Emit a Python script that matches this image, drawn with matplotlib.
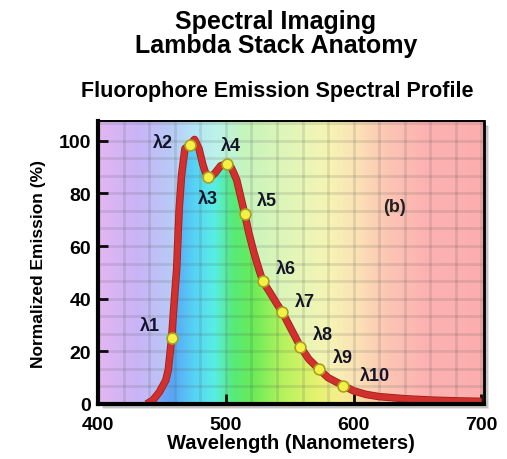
import numpy as np
import matplotlib
matplotlib.use("Agg")
import matplotlib.pyplot as plt
import matplotlib.patheffects as pe
from matplotlib.colors import LinearSegmentedColormap
from matplotlib.patches import Rectangle

plt.rcParams["font.family"] = ["Liberation Sans", "DejaVu Sans"]
plt.rcParams["font.weight"] = "bold"

# emission profile (nm, % of max)
curve_wl = [438, 443, 448, 453, 455, 457.6, 459.5, 461.5, 463.5, 465.4, 468, 471.9,
            475.5, 479, 482, 484, 486.2, 489, 492, 496, 501.3, 504, 506, 508.6,
            511, 514.8, 518, 522, 526, 529, 535, 540, 544, 550, 558.3, 565,
            572.7, 580, 591.7, 600, 610, 620, 640, 660, 680, 700]
curve_val = [0, 1.5, 4.5, 9, 13, 25, 38, 51, 74, 87, 97, 98.5,
             100.5, 97, 91, 88, 86.4, 86.5, 88, 90.5, 91.3, 90, 88, 85,
             80, 72.2, 65, 57.5, 51, 46.6, 42, 38, 35.1, 29.5, 21.8, 17,
             13.3, 10, 7, 5, 3.6, 2.8, 2, 1.5, 1.2, 1.0]

# lambda stack sampling channels
lam_names = ["λ1", "λ2", "λ3", "λ4", "λ5", "λ6", "λ7", "λ8", "λ9", "λ10"]
lam_wl = [457.6, 471.9, 486.2, 501.3, 514.8, 529.0, 544.0, 558.3, 572.7, 591.7]
lam_val = [25, 98.5, 86.4, 91.3, 72.2, 46.6, 35.1, 21.8, 13.3, 7.0]
# label offsets (nm, %) relative to each point
lam_dx = [-17, -21, 0, 3, 17, 18, 18, 18, 19, 25]
lam_dy = [5, 1, -8.5, 7, 5, 5, 4, 4.5, 4.5, 3.8]

X0, X1, Y0, Y1 = 400, 702, 0, 107.5

W, H = 507, 460
fig = plt.figure(figsize=(W / 100, H / 100), dpi=100)
fig.patch.set_facecolor("white")

L, R, B, T = 98, 484, 405, 122
ax_rect = [L / W, 1 - B / H, (R - L) / W, (B - T) / H]

# soft drop shadow behind the plot box
for i, a in enumerate([0.10, 0.14, 0.2]):
    off = 5 - i * 1.3
    fig.patches.append(Rectangle(((L + off) / W, 1 - (B + off) / H),
                                 (R - L) / W, (B - T) / H,
                                 transform=fig.transFigure, color="black",
                                 alpha=a, lw=0, zorder=0))

ax = fig.add_axes(ax_rect, zorder=2)

pale = LinearSegmentedColormap.from_list("pale", [
    (0.00, "#e2b6f2"), (0.10, "#c9b4f6"), (0.18, "#b9c8f6"), (0.25, "#b6e6f6"),
    (0.31, "#bcf4e8"), (0.38, "#c6f4bc"), (0.50, "#e2f6b8"), (0.60, "#f6f4b4"),
    (0.67, "#fbe2b6"), (0.75, "#fcc6b4"), (0.85, "#fcb2b2"), (1.00, "#fcaeae")])
vivid = LinearSegmentedColormap.from_list("vivid", [
    (0.00, "#c8a0f0"), (0.12, "#9aa4f4"), (0.19, "#5aa4f6"), (0.25, "#56d4f4"),
    (0.30, "#58eee6"), (0.35, "#58ea78"), (0.40, "#68ec58"), (0.48, "#b6f25e"),
    (0.57, "#e6f270"), (0.63, "#f8ee90"), (0.70, "#fad2a0"), (1.00, "#fcb0b0")])

grad = np.linspace(0, 1, 600).reshape(1, -1)
ax.imshow(grad, cmap=pale, aspect="auto", extent=[X0, X1, Y0, Y1], zorder=0)
under = ax.imshow(grad, cmap=vivid, aspect="auto", extent=[X0, X1, Y0, Y1], zorder=1)
fill = ax.fill_between(curve_wl, curve_val, 0, color="none", lw=0)
under.set_clip_path(fill.get_paths()[0], transform=ax.transData)

# grid
for gx in np.arange(X0, X1, 20):
    ax.axvline(gx, color="#505050", alpha=0.15, lw=2, zorder=2)
for gy in np.arange(0, Y1, 20 / 3):
    ax.axhline(gy, color="#505050", alpha=0.15, lw=2, zorder=2)

ax.plot(curve_wl, curve_val, color="#d2302c", lw=4.2, solid_joinstyle="round",
        solid_capstyle="butt", zorder=4,
        path_effects=[pe.Stroke(linewidth=5.4, foreground="#9c2020"), pe.Normal()])
ax.plot(lam_wl, lam_val, ls="none", marker="o", ms=7.8, mfc="#f4f046",
        mec="#a8a020", mew=1.2, zorder=5)

for name, x, y, dx, dy in zip(lam_names, lam_wl, lam_val, lam_dx, lam_dy):
    ax.text(x + dx, y + dy, name, fontsize=13, fontweight="bold", color="#141428",
            ha="center", va="center", zorder=6)

ax.text(632, 75, "(b)", fontsize=13, fontweight="bold", color="#202020",
        ha="center", va="center", zorder=6)

ax.set_xlim(X0, X1)
ax.set_ylim(Y0, Y1)
ax.set_xticks([400, 500, 600, 700])
ax.set_yticks([0, 20, 40, 60, 80, 100])
ax.tick_params(direction="in", length=7, width=2, labelsize=14, colors="black")
for lbl in ax.get_xticklabels() + ax.get_yticklabels():
    lbl.set_fontweight("bold")
ax.tick_params(axis="x", pad=9)
ax.tick_params(axis="y", pad=5)

for side, lw in [("left", 3), ("bottom", 3), ("top", 1.4), ("right", 2)]:
    ax.spines[side].set_linewidth(lw)
    ax.spines[side].set_color("black")
    ax.spines[side].set_zorder(7)

ax.set_xlabel("Wavelength (Nanometers)", fontsize=14.5, fontweight="bold", labelpad=0)
ax.set_ylabel("Normalized Emission (%)", fontsize=12.5, fontweight="bold", labelpad=9)

fig.text(276 / W, 1 - 22 / H, "Spectral Imaging", fontsize=18, fontweight="bold",
         ha="center", va="center")
fig.text(276 / W, 1 - 46 / H, "Lambda Stack Anatomy", fontsize=18, fontweight="bold",
         ha="center", va="center")
fig.text(277 / W, 1 - 92 / H, "Fluorophore Emission Spectral Profile", fontsize=15.5,
         fontweight="bold", ha="center", va="center")

fig.savefig("out.png", dpi=100)
